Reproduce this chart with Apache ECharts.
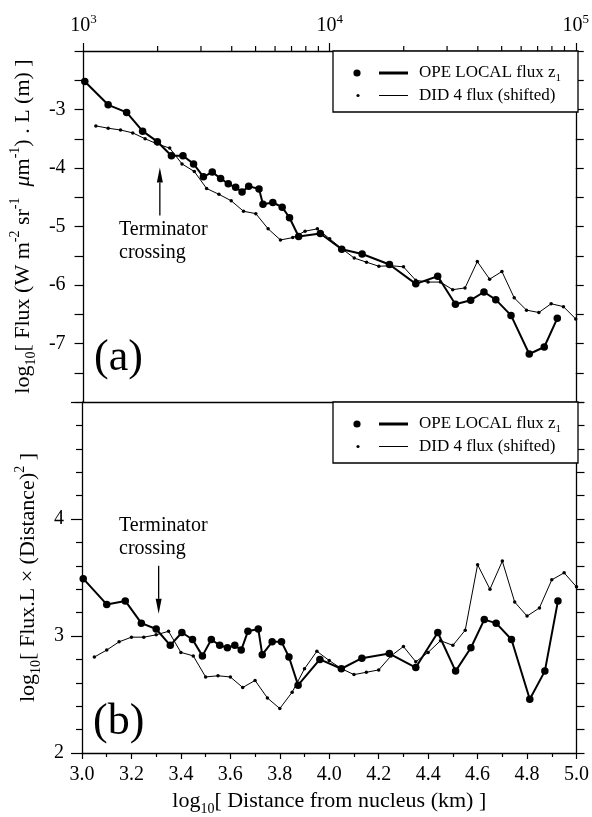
<!DOCTYPE html>
<html>
<head>
<meta charset="utf-8">
<script src="https://cdn.jsdelivr.net/npm/echarts@6/dist/echarts.min.js"></script>
<style>
  html, body { margin: 0; background: #fff; }
  #chart { width: 592px; height: 817px; }
</style>
</head>
<body>
<div id="chart"></div>
<script>
  // OPE LOCAL flux z1 : log10 distance (km) and the two panels' values
  const opeDist = [3.005, 3.10, 3.175, 3.24, 3.30, 3.357, 3.404, 3.447, 3.487, 3.523, 3.557, 3.588, 3.618, 3.644, 3.671,
    3.713, 3.729, 3.769, 3.807, 3.837, 3.874, 3.962, 4.049, 4.132, 4.243, 4.350, 4.439, 4.511, 4.573, 4.627,
    4.675, 4.737, 4.811, 4.872, 4.925];
  const opeFluxA = [-2.52, -2.92, -3.05, -3.37, -3.55, -3.79, -3.79, -3.93, -4.15, -4.07, -4.18, -4.27, -4.33, -4.41, -4.31,
    -4.36, -4.62, -4.59, -4.67, -4.85, -5.17, -5.12, -5.39, -5.47, -5.65, -5.98, -5.85, -6.33, -6.26, -6.12,
    -6.25, -6.52, -7.18, -7.06, -6.57];
  const opeFluxB = [3.49, 3.27, 3.30, 3.11, 3.06, 2.92, 3.03, 2.97, 2.83, 2.97, 2.92, 2.90, 2.92, 2.88, 3.04,
    3.06, 2.84, 2.95, 2.95, 2.82, 2.58, 2.80, 2.72, 2.81, 2.85, 2.73, 3.03, 2.70, 2.90, 3.14,
    3.11, 2.97, 2.46, 2.70, 3.30];

  // DID 4 flux (shifted)
  const didDist = [3.05, 3.10, 3.15, 3.20, 3.25, 3.30, 3.35, 3.40, 3.45, 3.50, 3.55, 3.60, 3.65, 3.70, 3.75, 3.80, 3.85, 3.90, 3.95, 4.00,
    4.05, 4.10, 4.15, 4.20, 4.25, 4.30, 4.35, 4.40, 4.45, 4.50, 4.55, 4.60, 4.65, 4.70, 4.75, 4.80, 4.85, 4.90, 4.95, 5.00];
  const didFluxA = [-3.28, -3.32, -3.35, -3.40, -3.50, -3.59, -3.66, -3.93, -4.06, -4.35, -4.45, -4.56, -4.74, -4.78, -5.04, -5.23, -5.19, -5.08, -5.04, -5.21,
    -5.38, -5.54, -5.61, -5.68, -5.67, -5.69, -5.92, -5.95, -5.95, -6.08, -6.05, -5.60, -5.90, -5.77, -6.22, -6.43, -6.47, -6.32, -6.37, -6.58];
  const didFluxB = [2.82, 2.88, 2.95, 2.99, 2.99, 3.01, 3.04, 2.86, 2.83, 2.65, 2.66, 2.65, 2.56, 2.62, 2.47, 2.38, 2.52, 2.72, 2.87, 2.79,
    2.72, 2.67, 2.69, 2.71, 2.83, 2.91, 2.78, 2.86, 2.96, 2.92, 3.05, 3.61, 3.40, 3.64, 3.29, 3.17, 3.24, 3.48, 3.54, 3.42];

  // axes
  const topMajor = [1000, 10000, 100000];
  const topMinor = [2000, 3000, 4000, 5000, 6000, 7000, 8000, 9000, 20000, 30000, 40000, 50000, 60000, 70000, 80000, 90000];
  const yLabelsA = [-7, -6, -5, -4, -3];
  const yLabelsB = [2, 3, 4];

  // terminator arrows: [x, tail y, head y]
  const arrowA = [3.31, -4.81, -3.99];
  const arrowB = [3.31, 3.60, 3.19];

  const FONT = 'Liberation Serif';
  const zip = (xs, ys) => xs.map((x, i) => [x, ys[i]]);

  const chart = echarts.init(document.getElementById('chart'), null, { renderer: 'canvas' });

  const axisLine = { show: true, lineStyle: { color: '#000', width: 1.3 } };
  const tickStyle = { color: '#000', width: 1.2 };
  const labelFont = { color: '#000', fontFamily: FONT, fontSize: 20 };
  const titleRich = {
    n: { fontFamily: FONT, fontSize: 22, lineHeight: 30, color: '#000' },
    it: { fontFamily: FONT, fontSize: 22, lineHeight: 30, fontStyle: 'italic', color: '#000' },
    sup: { fontFamily: FONT, fontSize: 14, lineHeight: 15, verticalAlign: 'top', color: '#000' },
    sub: { fontFamily: FONT, fontSize: 14, lineHeight: 17, verticalAlign: 'bottom', color: '#000' }
  };

  const xMin = Math.log10(topMajor[0]);
  const xMax = Math.log10(topMajor[topMajor.length - 1]);

  // vertical arrow from tail to head, drawn through the axes
  function arrowItem(params, api) {
    const x = api.value(0);
    const p0 = api.coord([x, api.value(1)]);
    const p1 = api.coord([x, api.value(2)]);
    const dir = p1[1] < p0[1] ? -1 : 1;
    const headLen = 15, half = 3;
    return {
      type: 'group',
      children: [
        { type: 'line', shape: { x1: p0[0], y1: p0[1], x2: p1[0], y2: p1[1] - dir * headLen }, style: { stroke: '#000', lineWidth: 1.3 } },
        { type: 'polygon', shape: { points: [[p1[0], p1[1]], [p1[0] - half, p1[1] - dir * headLen], [p1[0] + half, p1[1] - dir * headLen]] }, style: { fill: '#000' } }
      ]
    };
  }

  function legendBox(top) {
    const rowA = top + 22, rowB = top + 44.5;
    return [
      { type: 'rect', shape: { x: 333, y: top, width: 245, height: 61 }, style: { fill: '#fff', stroke: '#000', lineWidth: 1.3 }, z: 10 },
      { type: 'circle', shape: { cx: 357, cy: rowA, r: 3.6 }, style: { fill: '#000' }, z: 11 },
      { type: 'line', shape: { x1: 379, y1: rowA, x2: 408, y2: rowA }, style: { stroke: '#000', lineWidth: 3 }, z: 11 },
      { type: 'text', x: 419, y: rowA, z: 11, style: {
          text: 'OPE LOCAL flux z{s|1}', fontFamily: FONT, fontSize: 17, fill: '#000', verticalAlign: 'middle', lineHeight: 22,
          rich: { s: { fontFamily: FONT, fontSize: 11, lineHeight: 14, verticalAlign: 'bottom' } } } },
      { type: 'circle', shape: { cx: 358, cy: rowB, r: 1.6 }, style: { fill: '#000' }, z: 11 },
      { type: 'line', shape: { x1: 379, y1: rowB, x2: 408, y2: rowB }, style: { stroke: '#000', lineWidth: 1 }, z: 11 },
      { type: 'text', x: 419, y: rowB, z: 11, style: {
          text: 'DID 4 flux (shifted)', fontFamily: FONT, fontSize: 17, fill: '#000', verticalAlign: 'middle' } }
    ];
  }

  const option = {
    animation: false,
    backgroundColor: '#fff',
    grid: [
      { left: 82, top: 51, width: 496, height: 351 },
      { left: 82, top: 402, width: 496, height: 352 }
    ],
    xAxis: [
      { gridIndex: 0, type: 'value', min: xMin, max: xMax, position: 'bottom', axisLine: axisLine,
        axisTick: { show: false }, axisLabel: { show: false }, splitLine: { show: false } },
      { gridIndex: 0, type: 'value', min: xMin, max: xMax, interval: 1, position: 'top', axisLine: axisLine,
        axisTick: { show: true, length: 8, lineStyle: tickStyle }, splitLine: { show: false },
        axisLabel: { margin: 12, formatter: v => '{b|10}{s|' + Math.round(v) + '}',
          rich: { b: { fontFamily: FONT, fontSize: 20, lineHeight: 26, color: '#000' },
                  s: { fontFamily: FONT, fontSize: 13, lineHeight: 14, verticalAlign: 'top', color: '#000' } } } },
      { gridIndex: 1, type: 'value', min: xMin, max: xMax, interval: 0.2, position: 'bottom', axisLine: axisLine,
        axisTick: { show: true, length: 6, lineStyle: tickStyle },
        minorTick: { show: true, splitNumber: 2, length: 4, lineStyle: tickStyle },
        splitLine: { show: false },
        axisLabel: Object.assign({ margin: 12, formatter: v => v.toFixed(1) }, labelFont),
        name: '{n|log}{sub|10}{n|[ Distance from nucleus (km) ]}', nameLocation: 'middle', nameGap: 33,
        nameTextStyle: { rich: titleRich } },
      { gridIndex: 1, type: 'value', min: xMin, max: xMax, position: 'top', show: false }
    ],
    yAxis: [
      { gridIndex: 0, type: 'value', min: -8, max: -2, interval: 0.5, axisLine: axisLine,
        axisTick: { show: true, length: 9, lineStyle: tickStyle }, splitLine: { show: false },
        axisLabel: Object.assign({ margin: 18, formatter: v => yLabelsA.includes(v) ? String(v) : '' }, labelFont),
        name: '{n|log}{sub|10}{n|[ Flux (W m}{sup|-2}{n| sr}{sup|-1}{n|  }{it|μ}{n|m}{sup|-1}{n|) . L (m) ]}',
        nameLocation: 'middle', nameGap: 33, nameRotate: 90, nameTextStyle: { rich: titleRich } },
      { gridIndex: 0, type: 'value', min: -8, max: -2, interval: 0.5, position: 'right', axisLine: axisLine,
        axisTick: { show: true, length: 8, lineStyle: tickStyle }, axisLabel: { show: false }, splitLine: { show: false } },
      { gridIndex: 1, type: 'value', min: 2, max: 5, interval: 1, axisLine: axisLine,
        axisTick: { show: true, length: 11, lineStyle: tickStyle },
        minorTick: { show: true, splitNumber: 5, length: 6, lineStyle: tickStyle }, splitLine: { show: false },
        axisLabel: Object.assign({ margin: 18, formatter: v => yLabelsB.includes(v) ? String(v) : '' }, labelFont),
        name: '{n|log}{sub|10}{n|[ Flux.L × (Distance)}{sup|2}{n| ]}',
        nameLocation: 'middle', nameGap: 33, nameRotate: 90, nameTextStyle: { rich: titleRich } },
      { gridIndex: 1, type: 'value', min: 2, max: 5, interval: 1, position: 'right', axisLine: axisLine,
        axisTick: { show: true, length: 8, lineStyle: tickStyle },
        minorTick: { show: true, splitNumber: 5, length: 8, lineStyle: tickStyle },
        axisLabel: { show: false }, splitLine: { show: false } }
    ],
    series: [
      { type: 'line', xAxisIndex: 0, yAxisIndex: 0, data: zip(didDist, didFluxA), symbol: 'circle', symbolSize: 3.5,
        itemStyle: { color: '#000' }, lineStyle: { color: '#000', width: 1 } },
      { type: 'line', xAxisIndex: 0, yAxisIndex: 0, data: zip(opeDist, opeFluxA), symbol: 'circle', symbolSize: 7.5,
        itemStyle: { color: '#000' }, lineStyle: { color: '#000', width: 2 }, z: 3 },
      { type: 'line', xAxisIndex: 2, yAxisIndex: 2, data: zip(didDist, didFluxB), symbol: 'circle', symbolSize: 3.5,
        itemStyle: { color: '#000' }, lineStyle: { color: '#000', width: 1 } },
      { type: 'line', xAxisIndex: 2, yAxisIndex: 2, data: zip(opeDist, opeFluxB), symbol: 'circle', symbolSize: 7.5,
        itemStyle: { color: '#000' }, lineStyle: { color: '#000', width: 2 }, z: 3 },
      { type: 'custom', xAxisIndex: 1, yAxisIndex: 0, clip: false, silent: true,
        data: topMinor.map(v => [Math.log10(v), -2]),
        renderItem: (params, api) => {
          const p = api.coord([api.value(0), api.value(1)]);
          return { type: 'line', shape: { x1: p[0], y1: p[1], x2: p[0], y2: p[1] - 5 }, style: { stroke: '#000', lineWidth: 1.2 } };
        } },
      { type: 'custom', xAxisIndex: 0, yAxisIndex: 0, clip: false, silent: true, data: [arrowA], renderItem: arrowItem },
      { type: 'custom', xAxisIndex: 2, yAxisIndex: 2, clip: false, silent: true, data: [arrowB], renderItem: arrowItem }
    ],
    graphic: [
      ...legendBox(51),
      ...legendBox(402),
      { type: 'text', x: 119, y: 241.5, z: 11, style: { text: 'Terminator\ncrossing', fontFamily: FONT, fontSize: 20, lineHeight: 23, fill: '#000', verticalAlign: 'middle' } },
      { type: 'text', x: 119, y: 537.5, z: 11, style: { text: 'Terminator\ncrossing', fontFamily: FONT, fontSize: 20, lineHeight: 23, fill: '#000', verticalAlign: 'middle' } },
      { type: 'text', x: 94, y: 358, z: 11, style: { text: '(a)', fontFamily: FONT, fontSize: 44, fill: '#000', verticalAlign: 'middle' } },
      { type: 'text', x: 93, y: 722, z: 11, style: { text: '(b)', fontFamily: FONT, fontSize: 44, fill: '#000', verticalAlign: 'middle' } }
    ]
  };

  chart.setOption(option);
  window.addEventListener('resize', chart.resize);
</script>
</body>
</html>
